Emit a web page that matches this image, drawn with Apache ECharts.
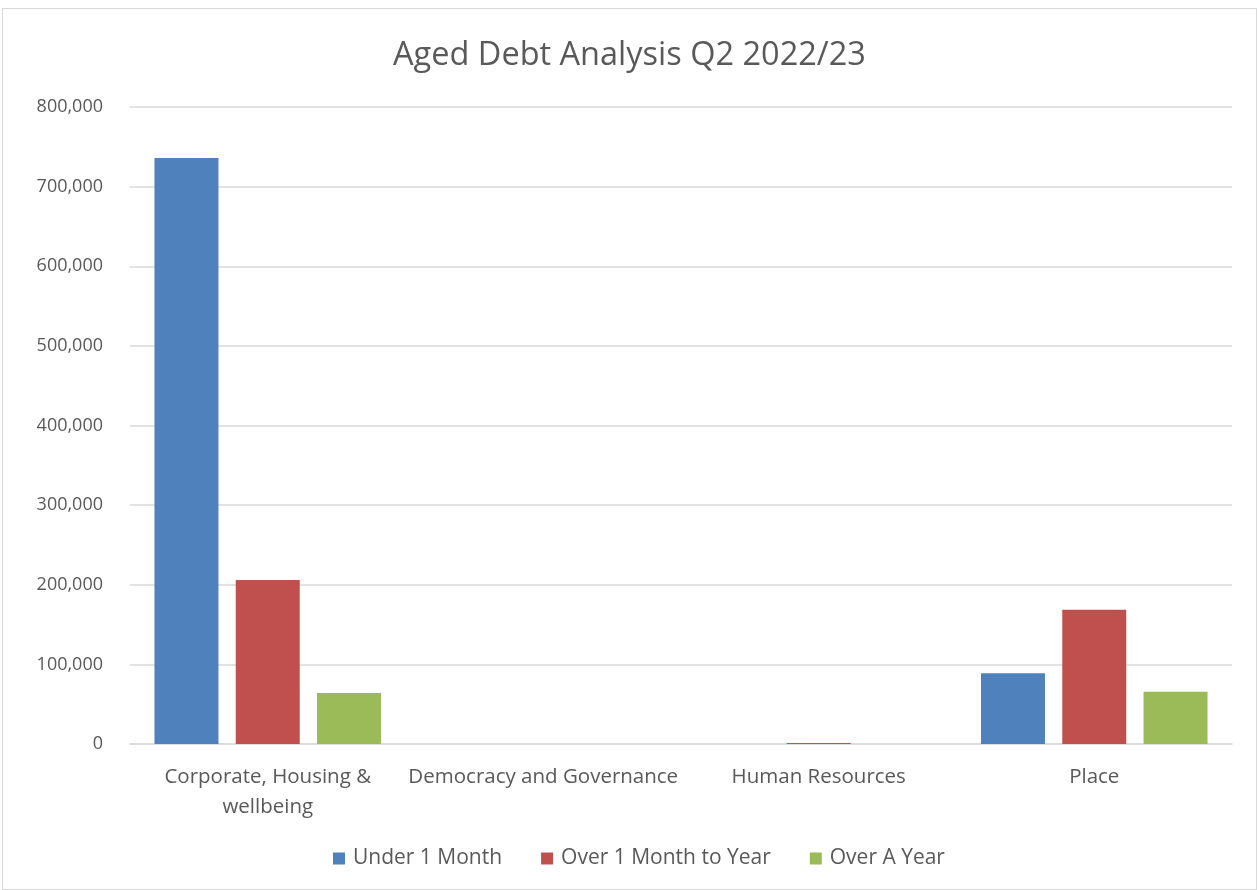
<!DOCTYPE html>
<html>
<head>
<meta charset="utf-8">
<script src="https://cdn.jsdelivr.net/npm/echarts@6/dist/echarts.min.js"></script>
<style>
  html, body { margin: 0; padding: 0; background: #fff; }
  #chart { width: 1259px; height: 890px; position: relative; }
  .frame { position: absolute; left: 2px; top: 8px; width: 1253px; height: 880px; border: 1px solid #d9d9d9; pointer-events: none; }
</style>
</head>
<body>
<div style="position:relative">
  <div id="chart"></div>
  <div class="frame"></div>
</div>
<script>
// chart data
var categories = ['Corporate, Housing &\nwellbeing', 'Democracy and Governance', 'Human Resources', 'Place']
var seriesNames = ['Under 1 Month', 'Over 1 Month to Year', 'Over A Year']
var underOneMonth = [736000, 0, 0, 89000]
var overOneMonthToYear = [206000, 0, 1200, 168500]
var overAYear = [64000, 0, 0, 65500]
var colors = ['#4f81bd', '#c0504d', '#9bbb59']

var chart = echarts.init(document.getElementById('chart'))
var font = "'Open Sans', 'Liberation Sans', sans-serif"

function bar(name, data, color) {
  return {
    name: name,
    type: 'bar',
    data: data,
    barWidth: 64,
    barGap: '27%',
    itemStyle: { color: color },
    animation: false
  }
}

chart.setOption({
  backgroundColor: '#fff',
  title: {
    text: 'Aged Debt Analysis Q2 2022/23',
    left: 'center',
    top: 34,
    textStyle: { fontFamily: font, fontSize: 32.5, fontWeight: 'normal', color: '#595959' }
  },
  legend: {
    data: seriesNames,
    bottom: 16,
    left: 328,
    icon: 'rect',
    itemWidth: 12,
    itemHeight: 12,
    itemGap: 39,
    textStyle: { fontFamily: font, fontSize: 21, color: '#595959', padding: [0, 0, 0, 3] }
  },
  grid: { left: 130, right: 27, top: 107, bottom: 146 },
  xAxis: {
    type: 'category',
    data: categories,
    axisLine: { lineStyle: { color: '#d9d9d9', width: 1.5 } },
    axisTick: { show: false },
    axisLabel: { interval: 0, fontFamily: font, fontSize: 20.5, color: '#595959', margin: 18, lineHeight: 30 }
  },
  yAxis: {
    type: 'value',
    min: 0,
    max: 800000,
    interval: 100000,
    axisLine: { show: false },
    axisTick: { show: false },
    splitLine: { lineStyle: { color: '#d9d9d9', width: 1.5 } },
    axisLabel: {
      fontFamily: font, fontSize: 18, color: '#595959', margin: 27,
      formatter: function (v) { return v.toLocaleString('en-GB') }
    }
  },
  series: [
    bar(seriesNames[0], underOneMonth, colors[0]),
    bar(seriesNames[1], overOneMonthToYear, colors[1]),
    bar(seriesNames[2], overAYear, colors[2])
  ]
})
</script>
</body>
</html>
